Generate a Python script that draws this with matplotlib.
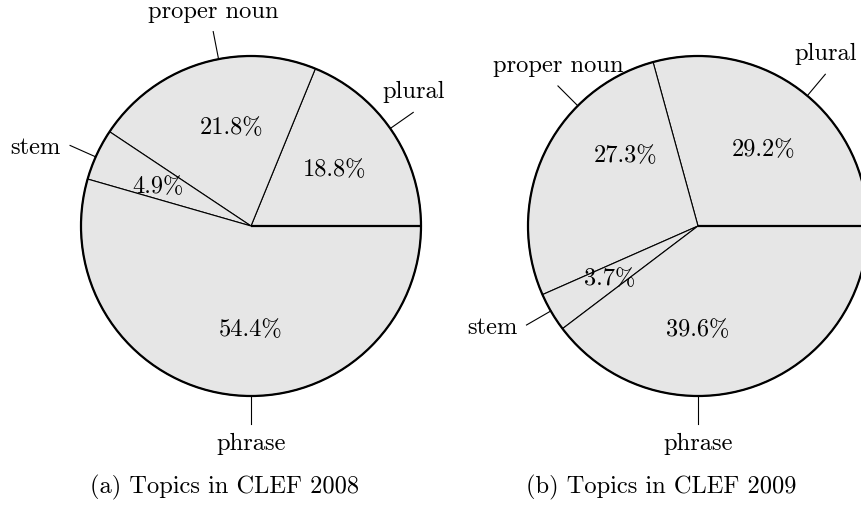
"""
Pie charts of topic types in CLEF 2008 and CLEF 2009.
"""

import numpy as np
import matplotlib.pyplot as plt

########
# Data #
########

categories = ["plural", "proper noun", "stem", "phrase"]
share_2008 = [18.8, 21.8, 4.9, 54.4]
share_2009 = [29.2, 27.3, 3.7, 39.6]
captions = ["(a) Topics in CLEF 2008", "(b) Topics in CLEF 2009"]

##########
# Layout #
##########

# Angles (degrees) where the pins and percentages sit, as in the original
label_angles_2008 = [35, 101, 156, 270]
label_angles_2009 = [50, 135, 210, 270]

W, H = 861, 507
RADIUS = 170
CENTERS = [(251, H - 226), (698, H - 226)]
CAPTION_X = [224, 661]
CAPTION_Y = H - 487
FILL = "#e6e6e6"
FONT_SIZE = 17.6

plt.rcParams["font.family"] = ["cmr10", "DejaVu Serif"]
plt.rcParams["axes.unicode_minus"] = False


def draw_pie(ax, values, labels, label_angles, center, caption, caption_x):
    cx, cy = center

    # Wedges
    wedges, _ = ax.pie(values, center=center, radius=RADIUS, startangle=0,
                       counterclock=True, colors=[FILL] * len(values),
                       wedgeprops=dict(edgecolor="black", linewidth=0.8))

    # Thick outer circle and thick start radius
    ax.add_patch(plt.Circle(center, RADIUS, fill=False, edgecolor="black",
                            linewidth=1.6))
    start = np.deg2rad(wedges[0].theta1)
    ax.plot([cx, cx + RADIUS * np.cos(start)], [cy, cy + RADIUS * np.sin(start)],
            color="black", linewidth=1.6, solid_capstyle="butt")

    for value, label, angle in zip(values, labels, label_angles):
        rad = np.deg2rad(angle)
        cos_a, sin_a = np.cos(rad), np.sin(rad)

        # Percentage inside the slice
        ax.text(cx + 0.6 * RADIUS * cos_a, cy + 0.6 * RADIUS * sin_a,
                f"{value:.1f}%", ha="center", va="center_baseline",
                fontsize=FONT_SIZE)

        # Pin line
        r_end = 1.165 * RADIUS
        x_end, y_end = cx + r_end * cos_a, cy + r_end * sin_a
        ax.plot([cx + RADIUS * cos_a, x_end], [cy + RADIUS * sin_a, y_end],
                color="black", linewidth=0.8)

        # Pin label
        gap = 9
        if abs(cos_a) > 0.84:
            ha = "left" if cos_a > 0 else "right"
            ax.text(x_end + np.sign(cos_a) * gap, y_end, label, ha=ha,
                    va="center_baseline", fontsize=FONT_SIZE)
        elif sin_a > 0:
            ax.text(x_end, y_end + gap, label, ha="center", va="bottom",
                    fontsize=FONT_SIZE)
        else:
            ax.text(x_end, y_end - gap, label, ha="center", va="top",
                    fontsize=FONT_SIZE)

    # Caption
    ax.text(caption_x, CAPTION_Y, caption, ha="center", va="center",
            fontsize=FONT_SIZE)


fig = plt.figure(figsize=(W / 100, H / 100), dpi=100)
ax = fig.add_axes([0, 0, 1, 1])

draw_pie(ax, share_2008, categories, label_angles_2008, CENTERS[0],
         captions[0], CAPTION_X[0])
draw_pie(ax, share_2009, categories, label_angles_2009, CENTERS[1],
         captions[1], CAPTION_X[1])

ax.set_xlim(0, W)
ax.set_ylim(0, H)
ax.set_aspect("equal")
ax.axis("off")

fig.savefig("out.png", dpi=100)
